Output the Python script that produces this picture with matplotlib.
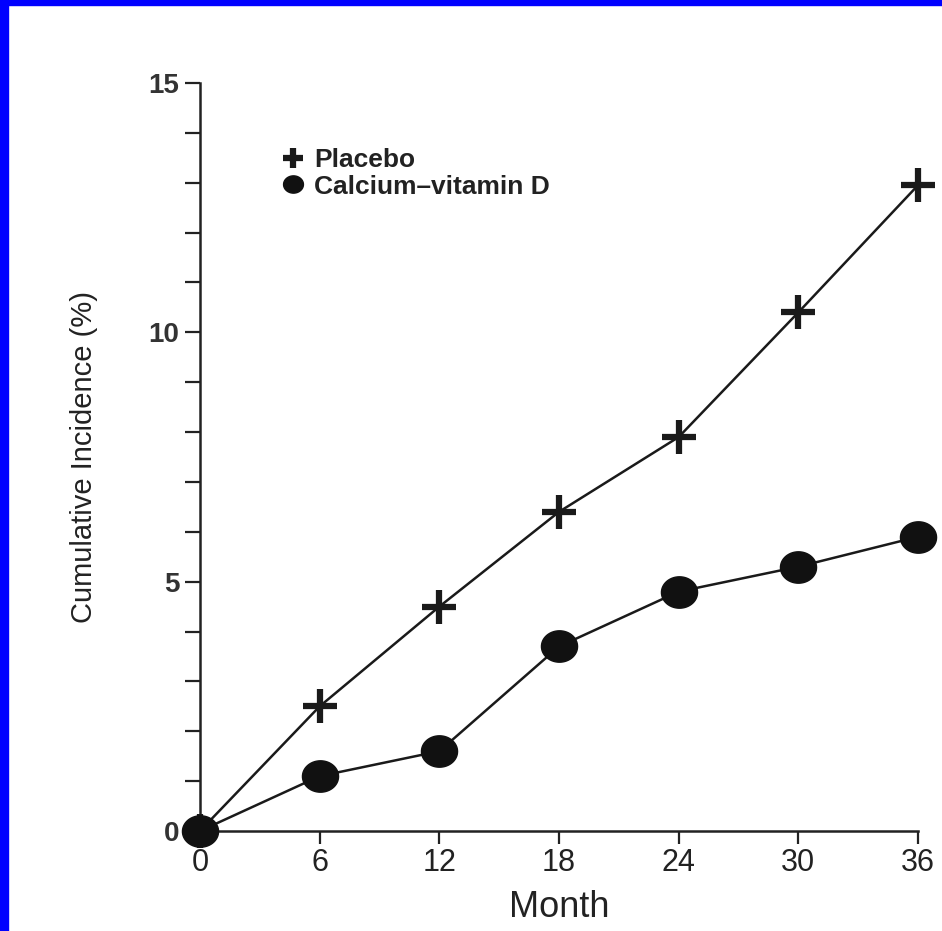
import matplotlib
matplotlib.use("Agg")
import matplotlib.pyplot as plt
from matplotlib.path import Path
from matplotlib.patches import Rectangle
import numpy as np

plt.rcParams['font.family'] = ['Liberation Sans', 'DejaVu Sans']

months = [0, 6, 12, 18, 24, 30, 36]
placebo = [0, 2.5, 4.5, 6.4, 7.9, 10.4, 12.95]
calcium_d = [0, 1.1, 1.6, 3.7, 4.8, 5.3, 5.9]
x_ticks = [0, 6, 12, 18, 24, 30, 36]
y_labels = [0, 5, 10, 15]

# slightly wide ellipse for the calcium dots
t = np.linspace(0, 2 * np.pi, 60)
ellipse = Path(np.column_stack([1.15 * np.cos(t), np.sin(t)]), closed=True)

fig = plt.figure(figsize=(9.42, 9.31), dpi=100)
fig.patches.append(Rectangle((0, 0), 8 / 942, 1, transform=fig.transFigure,
                             color='#0000ff', zorder=10))
fig.patches.append(Rectangle((0, 1 - 5 / 931), 1, 5 / 931, transform=fig.transFigure,
                             color='#0000ff', zorder=10))

ax = fig.add_axes([200 / 942, 100 / 931, 718 / 942, 748 / 931])

ax.plot(months, placebo, color='#1a1a1a', lw=1.8, marker='+', ms=25, mew=4.5,
        clip_on=False, zorder=3, label='Placebo')
ax.plot(months, calcium_d, color='#1a1a1a', lw=1.8, marker=ellipse, ms=26,
        mec='#111111', mfc='#111111', clip_on=False, zorder=4,
        label='Calcium\u2013vitamin D')

ax.set_xlim(0, 36)
ax.set_ylim(0, 15)
ax.spines['top'].set_visible(False)
ax.spines['right'].set_visible(False)
ax.spines['left'].set_linewidth(1.8)
ax.spines['bottom'].set_linewidth(1.8)
ax.spines['left'].set_color('#222222')
ax.spines['bottom'].set_color('#222222')

ax.set_xticks(x_ticks)
ax.set_xticklabels([str(v) for v in x_ticks], fontsize=22, color='#222222')
ax.set_yticks(y_labels)
ax.set_yticklabels([str(v) for v in y_labels], fontsize=20, fontweight='bold',
                   color='#333333')
ax.set_yticks(range(0, 16), minor=True)
ax.tick_params(axis='x', length=9, width=1.6, pad=3, color='#222222')
ax.tick_params(axis='y', which='both', length=11, width=1.6, pad=4, color='#222222')

ax.set_xlabel('Month', fontsize=26, color='#222222', labelpad=9)
ax.set_ylabel('Cumulative Incidence (%)', fontsize=21, color='#222222', labelpad=36)

leg = ax.legend(loc='upper left', bbox_to_anchor=(0.085, 0.945), frameon=False,
                fontsize=19, handlelength=0.6, handletextpad=0.5, labelspacing=0.1,
                markerscale=0.55)
for line in leg.get_lines():
    line.set_linestyle('none')
for txt in leg.get_texts():
    txt.set_color('#222222')
    txt.set_fontweight('semibold')

fig.savefig('out.png', dpi=100, facecolor='white')
